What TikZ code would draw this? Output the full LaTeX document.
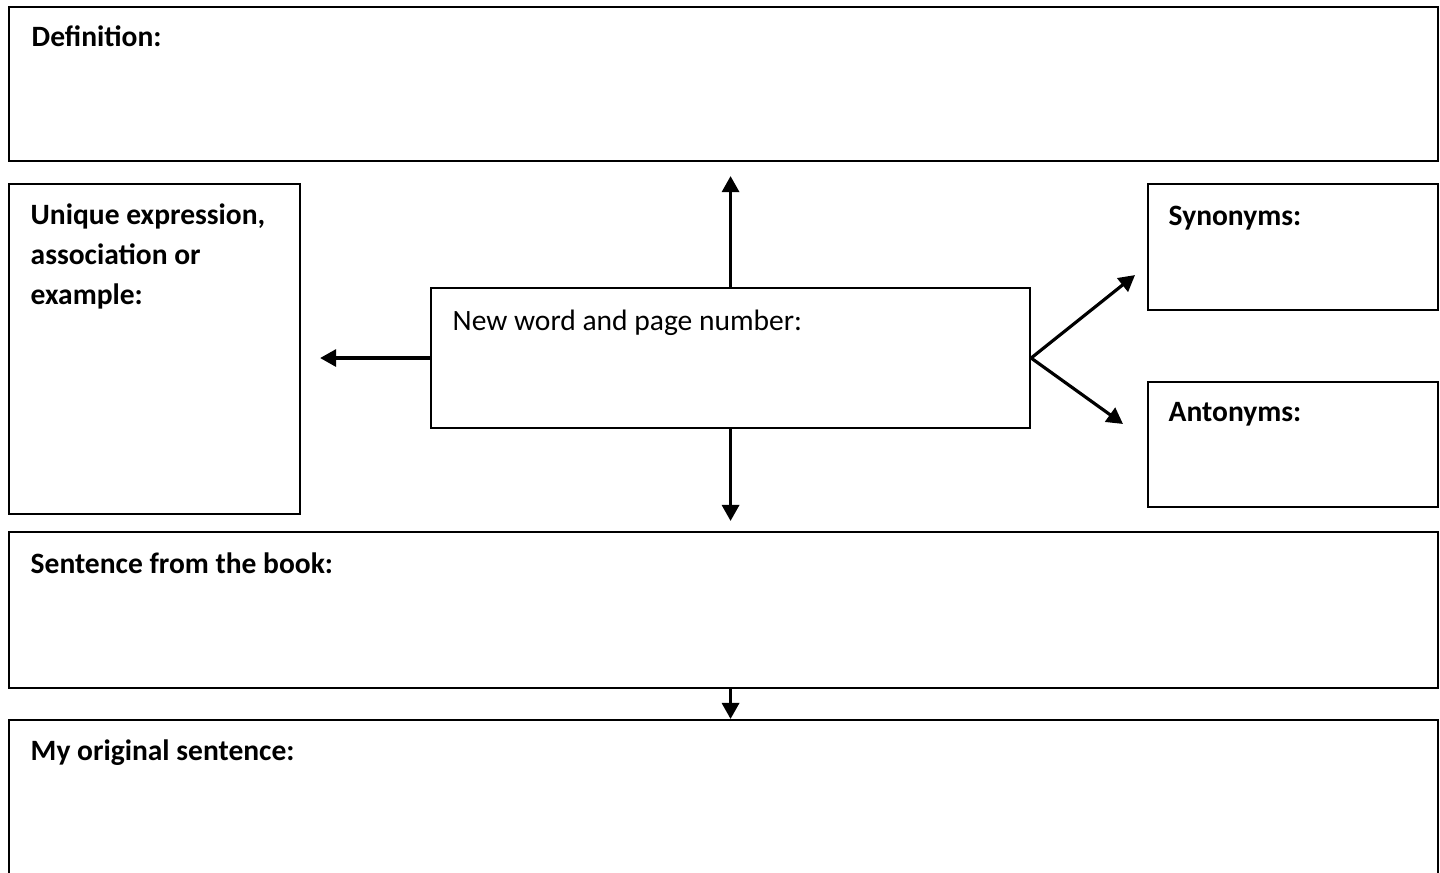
\documentclass[tikz,border=0pt]{standalone}
\usepackage{fontspec}
\setmainfont{Carlito}
\usepackage{tikz}
\usetikzlibrary{arrows.meta, positioning, calc}

\begin{document}
\begin{tikzpicture}[
		wordbox/.style={rectangle, draw, line width=0.6pt, anchor=north west, inner sep=0pt},
		heading/.style={inner sep=0pt, align=left, font=\fontsize{8.4}{11.4}\selectfont\bfseries},
		plain/.style={inner sep=0pt, align=left, font=\fontsize{8.4}{11.4}\selectfont},
		arr/.style={-{Triangle[length=0.16cm, width=0.17cm]}, line width=0.9pt}
	]
	\useasboundingbox (0,0) rectangle (14.4,8.73);
	% Boxes
	\node[wordbox, minimum width=14.29cm, minimum height=1.54cm] (def) at (0.08,8.67) {};
	\node[wordbox, minimum width=2.91cm, minimum height=3.30cm] (uniq) at (0.08,6.90) {};
	\node[wordbox, minimum width=5.99cm, minimum height=1.40cm] (word) at (4.30,5.86) {};
	\node[wordbox, minimum width=2.90cm, minimum height=1.26cm] (syn) at (11.47,6.90) {};
	\node[wordbox, minimum width=2.90cm, minimum height=1.25cm] (ant) at (11.47,4.92) {};
	\node[wordbox, minimum width=14.29cm, minimum height=1.56cm] (sent) at (0.08,3.42) {};
	\node[wordbox, minimum width=14.29cm, minimum height=1.60cm] (orig) at (0.08,1.54) {};
	
	% Labels
	\node[heading, below right=0.19cm and 0.23cm of def.north west] {Definition:};
	\node[heading, below right=0.20cm and 0.22cm of uniq.north west] {Unique expression,\\association or\\example:};
	\node[plain, below right=0.22cm and 0.22cm of word.north west] {New word and page number:};
	\node[heading, below right=0.22cm and 0.21cm of syn.north west] {Synonyms:};
	\node[heading, below right=0.21cm and 0.21cm of ant.north west] {Antonyms:};
	\node[heading, below right=0.21cm and 0.22cm of sent.north west] {Sentence from the book:};
	\node[heading, below right=0.20cm and 0.22cm of orig.north west] {My original sentence:};
	
	% Arrows
	\coordinate (syntip) at ($(syn.south west)+(-0.12,0.36)$);
	\coordinate (anttip) at ($(ant.north west)+(-0.24,-0.43)$);
	\draw[arr, shorten >=0.14cm] (word.north) -- (word.north |- def.south);
	\draw[arr, shorten >=0.10cm] (word.south) -- (word.south |- sent.north);
	\draw[arr, shorten >=0.19cm] (word.west) -- (word.west -| uniq.east);
	\draw[arr] (word.east) -- (syntip);
	\draw[arr] (word.east) -- (anttip);
	\draw[arr] (word.south |- sent.south) -- (word.south |- orig.north);
\end{tikzpicture}
\end{document}
